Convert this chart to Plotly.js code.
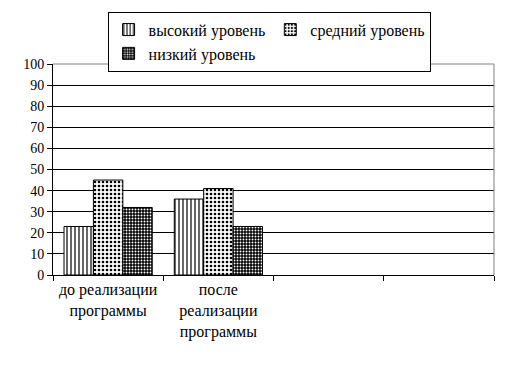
<!DOCTYPE html>
<html>
<head>
<meta charset="utf-8">
<script src="https://cdn.plot.ly/plotly-3.0.1.min.js"></script>
</head>
<body style="margin:0;background:#fff">
<div id="chart"></div>
<script>
const categories = ["до реализации<br>программы", "после<br>реализации<br>программы", " ", "  "];
const seriesNames = ["высокий уровень", "средний уровень", "низкий уровень"];
const high = [23, 36, null, null];
const mid = [45, 41, null, null];
const low = [32, 23, null, null];
const yTicks = [0, 10, 20, 30, 40, 50, 60, 70, 80, 90, 100];

const traces = [
  {type: "bar", name: seriesNames[0], x: categories, y: high,
   marker: {color: "#ffffff", line: {color: "#000", width: 1},
            pattern: {shape: "|", fgcolor: "#000", bgcolor: "#fff", size: 4, solidity: 0.3}}},
  {type: "bar", name: seriesNames[1], x: categories, y: mid,
   marker: {color: "#ffffff", line: {color: "#000", width: 1},
            pattern: {shape: ".", fgcolor: "#000", bgcolor: "#fff", size: 4, solidity: 0.35}}},
  {type: "bar", name: seriesNames[2], x: categories, y: low,
   marker: {color: "#000000", line: {color: "#000", width: 1},
            pattern: {shape: ".", fgcolor: "#fff", bgcolor: "#000", size: 3, solidity: 0.35}}}
];

const layout = {
  width: 510, height: 372,
  margin: {l: 53, r: 16, t: 61, b: 97},
  paper_bgcolor: "#fff", plot_bgcolor: "#fff",
  barmode: "group", bargap: 0.2, bargroupgap: 0,
  showlegend: true,
  legend: {orientation: "h", x: 0.49, xanchor: "center", y: 1.248, yanchor: "top",
           bordercolor: "#000", borderwidth: 1, bgcolor: "#fff",
           font: {family: "Liberation Serif", size: 16, color: "#000"},
           itemwidth: 30, tracegroupgap: 0},
  xaxis: {type: "category", tickson: "boundaries", ticks: "outside", ticklen: 5,
          tickcolor: "#000", showline: true, linecolor: "#000", linewidth: 1,
          showgrid: false, tickfont: {family: "Liberation Serif", size: 16, color: "#000"}},
  yaxis: {range: [0, 100], tickvals: yTicks, ticks: "outside", ticklen: 5,
          tickcolor: "#000", showline: true, linecolor: "#000", linewidth: 1,
          showgrid: true, gridcolor: "#000", gridwidth: 1, zeroline: false,
          tickfont: {family: "Liberation Serif", size: 14, color: "#000"}},
  shapes: [{type: "path", xref: "paper", yref: "paper", path: "M 0 1 L 1 1 L 1 0",
            line: {color: "#808080", width: 1}, layer: "above"}]
};

Plotly.newPlot("chart", traces, layout, {displayModeBar: false});
</script>
</body>
</html>
